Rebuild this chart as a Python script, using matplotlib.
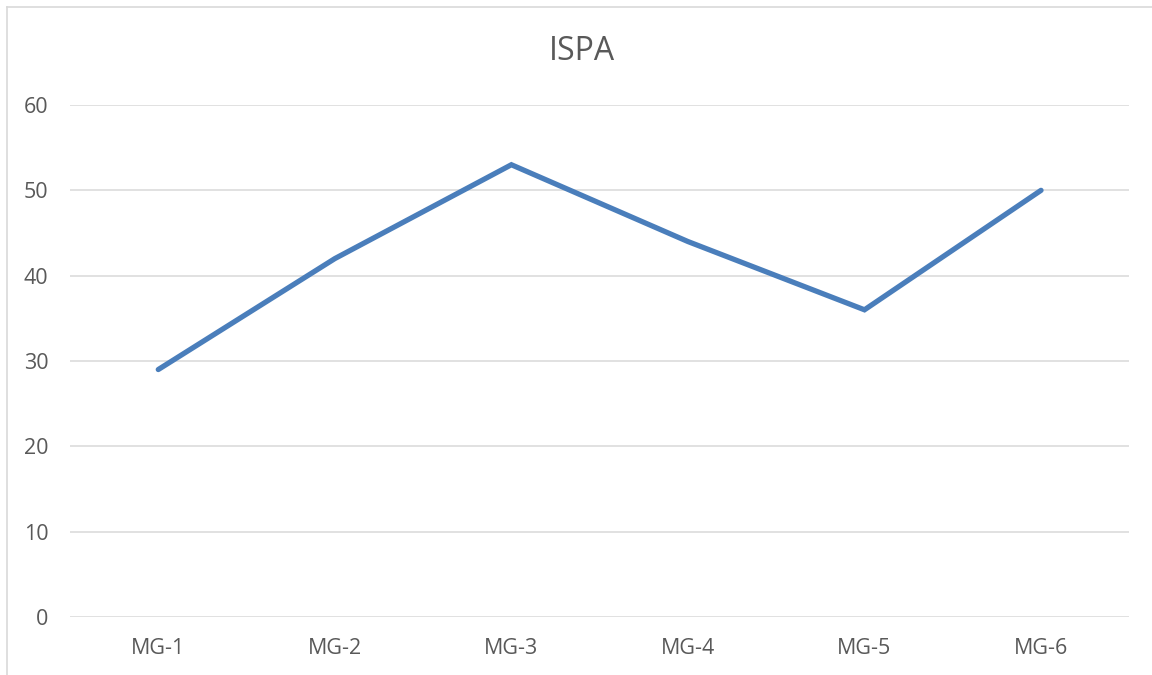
import matplotlib
matplotlib.use("Agg")
import matplotlib.pyplot as plt
from matplotlib.lines import Line2D

categories = ["MG-1", "MG-2", "MG-3", "MG-4", "MG-5", "MG-6"]
values = [29, 42, 53, 44, 36, 50]
yticks = [0, 10, 20, 30, 40, 50, 60]
title = "ISPA"

plt.rcParams['font.family'] = ['Open Sans', 'DejaVu Sans']

W, H = 1152, 675
fig = plt.figure(figsize=(W / 100, H / 100), dpi=100)
ax = fig.add_axes([70 / W, 1 - 617 / H, (1129.3 - 70) / W, (617 - 105) / H])

x = list(range(len(categories)))
ax.plot(x, values, color="#4a7ebb", linewidth=3.8,
        solid_capstyle="round", solid_joinstyle="miter", zorder=3)

ax.set_xlim(-0.5, len(categories) - 0.5)
ax.set_ylim(0, 60)
ax.set_yticks(yticks)
ax.set_yticklabels([str(v) for v in yticks])
ax.set_xticks(x)
ax.set_xticklabels(categories)
ax.grid(axis="y", color="#d9d9d9", linewidth=1.1, zorder=0)
ax.grid(axis="x", visible=False)
for s in ax.spines.values():
    s.set_visible(False)
ax.tick_params(axis="both", length=0, labelsize=15.5, labelcolor="#595959")
ax.tick_params(axis="y", pad=15.5)
ax.tick_params(axis="x", pad=15)

fig.text(582 / W, 1 - 52 / H, title, ha="center", va="center",
         fontsize=23, color="#595959")

# outer chart border (partially visible)
fig.add_artist(Line2D([6.5 / W, 6.5 / W], [0, 1 - 6.5 / H], color="#d9d9d9",
                      linewidth=1.2, transform=fig.transFigure))
fig.add_artist(Line2D([6.5 / W, 1], [1 - 6.5 / H, 1 - 6.5 / H], color="#d9d9d9",
                      linewidth=1.2, transform=fig.transFigure))

fig.savefig("out.png", dpi=100, facecolor="white")
